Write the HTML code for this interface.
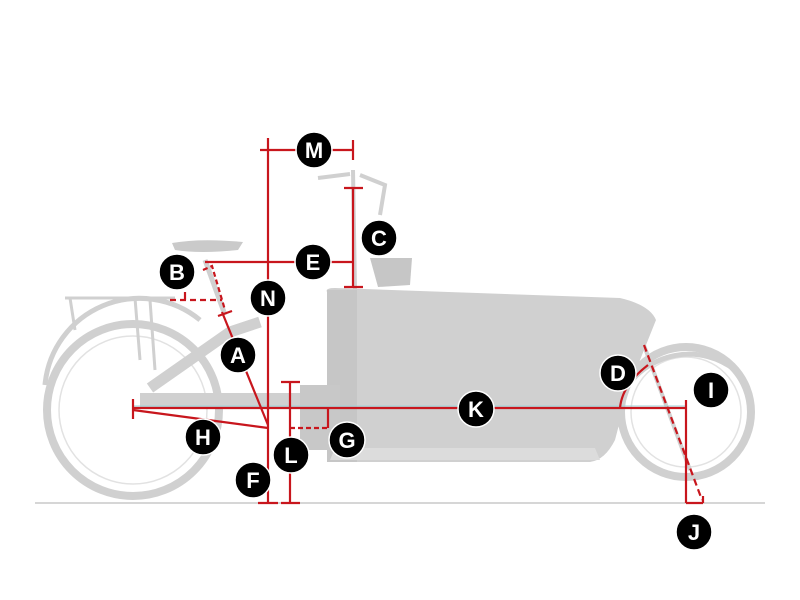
<!DOCTYPE html>
<html><head><meta charset="utf-8"><style>
html,body{margin:0;padding:0;background:#fff;width:800px;height:600px;overflow:hidden}
svg{display:block}
text{font-family:"Liberation Sans",sans-serif;font-weight:bold;font-size:22px;fill:#fff}
</style></head><body>
<svg width="800" height="600" viewBox="0 0 800 600">
<line x1="35" y1="503" x2="765" y2="503" stroke="#c8c8c8" stroke-width="1.5"/>
<g fill="none" stroke="#d0d0d0">
<circle cx="133" cy="410" r="86" stroke-width="8"/>
<circle cx="133" cy="410" r="74" stroke-width="1.5" stroke="#e2e2e2"/>
<path d="M45 385 A95 95 0 0 1 200 320" stroke-width="5"/>
<circle cx="686" cy="412" r="65" stroke-width="8"/>
<circle cx="686" cy="412" r="55" stroke-width="1.5" stroke="#e2e2e2"/>
<path d="M625 390 A75 75 0 0 1 735 370" stroke-width="5"/>
<path d="M65 298 L175 298 M70 298 L75 330 M135 298 L140 360 M150 300 L155 370" stroke-width="3"/>
<path d="M140 400 L320 400" stroke-width="14"/>
<path d="M150 388 L230 332 L260 322" stroke-width="11"/>
<path d="M205 260 L225 315" stroke-width="5"/>
<path d="M353 170 L355 290" stroke-width="4"/>
<path d="M318 178 L350 174 M360 175 L385 185 L380 215" stroke-width="4"/>
<path d="M642 340 L690 470" stroke-width="4"/>
</g>
<path d="M172 243 Q200 238 243 242 L238 250 Q200 254 175 250 Z" fill="#cacaca"/>
<path d="M370 258 L412 258 L410 285 L378 287 Z" fill="#c6c6c6"/>
<path d="M327 292 Q325 288 335 288 L620 298 Q650 305 656 320 L640 360 Q625 400 615 440 Q605 460 590 462 L345 462 Q330 460 328 440 Z" fill="#d0d0d0"/>
<rect x="327" y="290" width="30" height="172" fill="#c6c6c6"/>
<path d="M330 460 L600 460 L595 448 L335 448 Z" fill="#dcdcdc"/>
<rect x="300" y="385" width="40" height="65" fill="#c8c8c8"/>
<line x1="133" y1="406" x2="686" y2="406" stroke="#9fd3d8" stroke-width="1"/>
<g stroke="#c8161d" stroke-width="2.2" fill="none">
<line x1="260" y1="150" x2="354" y2="150"/>
<line x1="268" y1="138" x2="268" y2="503"/>
<line x1="353" y1="140" x2="353" y2="160"/>
<line x1="258" y1="503" x2="278" y2="503"/>
<line x1="205" y1="262" x2="353" y2="262"/>
<line x1="353" y1="188" x2="353" y2="287"/>
<line x1="344" y1="188" x2="363" y2="188"/>
<line x1="344" y1="287" x2="363" y2="287"/>
<path d="M170 300 L222 300" stroke-dasharray="6,4"/>
<path d="M185 292 L185 300"/>
<path d="M203 270 L212 266 L225 310" stroke-dasharray="5,3"/>
<line x1="222" y1="312" x2="268" y2="425"/>
<line x1="218" y1="316" x2="232" y2="311"/>
<line x1="133" y1="408" x2="686" y2="408"/>
<line x1="133" y1="399" x2="133" y2="419"/>
<line x1="133" y1="410" x2="268" y2="428"/>
<line x1="290" y1="382" x2="290" y2="503"/>
<line x1="281" y1="382" x2="300" y2="382"/>
<line x1="281" y1="503" x2="300" y2="503"/>
<path d="M290 428 L328 428" stroke-dasharray="5,3"/>
<line x1="328" y1="408" x2="328" y2="428"/>
<path d="M620 408 Q622 385 648 365"/>
<path d="M644 345 L702 500" stroke-dasharray="7,4"/>
<line x1="686" y1="400" x2="686" y2="503"/>
<line x1="686" y1="503" x2="703" y2="503"/>
<line x1="703" y1="496" x2="703" y2="503"/>
</g>
<g stroke="#fff" stroke-width="1.5" fill="#000">
<circle cx="314" cy="150" r="18"/><circle cx="268" cy="298" r="18"/>
<circle cx="313" cy="262" r="18"/><circle cx="379" cy="238" r="18"/>
<circle cx="177" cy="272" r="18"/><circle cx="238" cy="355" r="18"/>
<circle cx="476" cy="409" r="18"/><circle cx="203" cy="437" r="18"/>
<circle cx="291" cy="455" r="18"/><circle cx="347" cy="440" r="18"/>
<circle cx="253" cy="480" r="18"/><circle cx="618" cy="373" r="18"/>
<circle cx="711" cy="390" r="18"/><circle cx="694" cy="532" r="18"/>
</g>
<g text-anchor="middle">
<text x="314" y="158">M</text><text x="268" y="306">N</text>
<text x="313" y="270">E</text><text x="379" y="246">C</text>
<text x="177" y="280">B</text><text x="238" y="363">A</text>
<text x="476" y="417">K</text><text x="203" y="445">H</text>
<text x="291" y="463">L</text><text x="347" y="448">G</text>
<text x="253" y="488">F</text><text x="618" y="381">D</text>
<text x="711" y="398">I</text><text x="694" y="540">J</text>
</g>
</svg>
</body></html>
